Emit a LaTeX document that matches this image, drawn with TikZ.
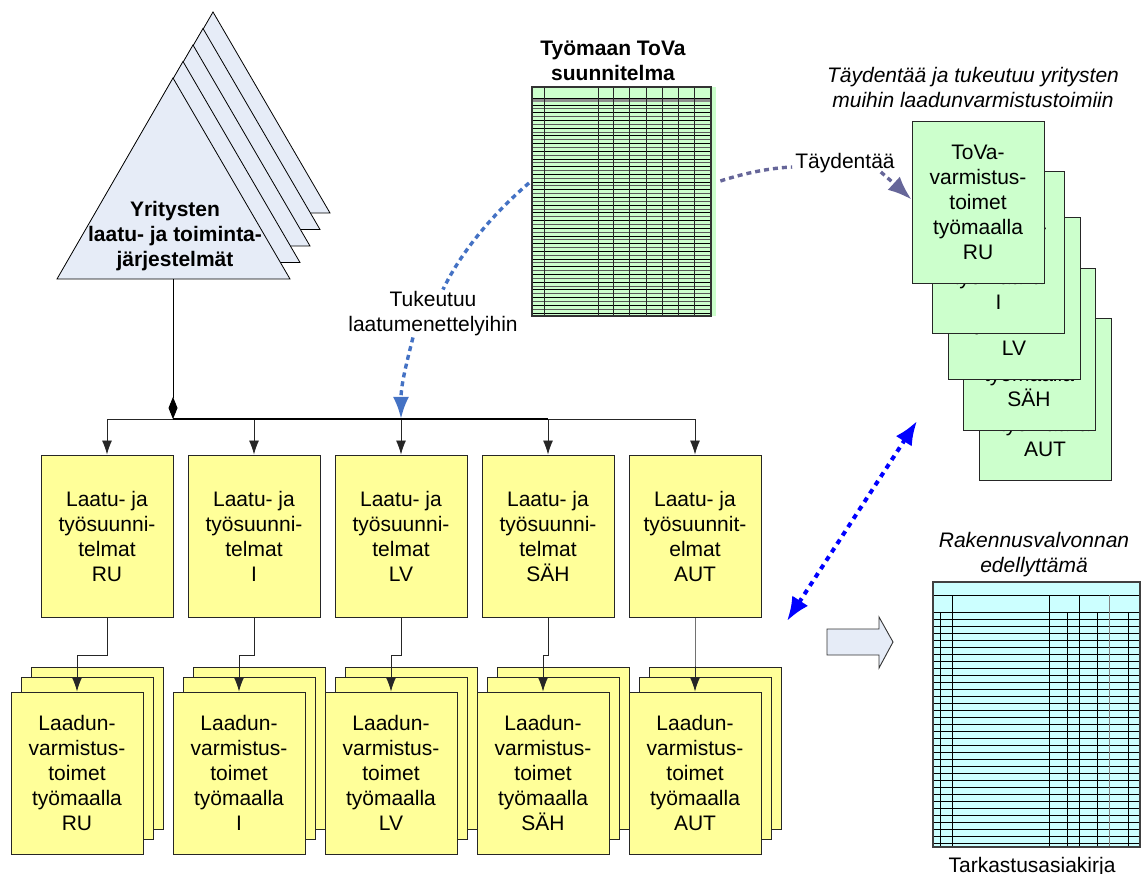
\documentclass[tikz,border=0pt]{standalone}
\usepackage{fontspec}
\setmainfont{Liberation Sans}
\usetikzlibrary{arrows.meta,calc}

\definecolor{boxyellow}{RGB}{255,255,153}
\definecolor{boxgreen}{RGB}{204,255,204}
\definecolor{sheetcyan}{RGB}{204,255,255}
\definecolor{paleblue}{RGB}{230,236,247}
\definecolor{linkblue}{RGB}{68,114,196}
\definecolor{linkpurple}{RGB}{102,102,153}
\definecolor{pureblue}{RGB}{0,0,255}

\newcommand{\txtsize}{\fontsize{21}{25}\selectfont}

\begin{document}
\begin{tikzpicture}[x=1pt,y=-1pt,
  every node/.style={font=\txtsize, align=center, inner sep=0pt},
  card/.style={draw=black!85, line width=0.9pt, minimum width=132pt, minimum height=162pt},
  plan/.style={card, fill=boxyellow},
  qa/.style={card, fill=boxgreen},
  feed/.style={line width=0.9pt, draw=black!85, -{Latex[length=14pt,width=10pt]}},
  support/.style={draw=linkblue, line width=3.4pt, dash pattern=on 5pt off 4pt},
  extend/.style={draw=linkpurple, line width=3.4pt, dash pattern=on 5pt off 4pt},
  crosscheck/.style={draw=pureblue, line width=4pt, dash pattern=on 5pt off 5pt,
    {Latex[length=24pt,width=19pt]}-{Latex[length=24pt,width=19pt]}},
  gridline/.style={line width=0.7pt, draw=black},
]
\useasboundingbox (0,0) rectangle (1141,874);

% ---- stacked triangles: company quality and management systems ----
\foreach \k in {4,3,2,1,0} {
  \begin{scope}[shift={(10*\k,-16.5*\k)}]
    \draw[fill=paleblue, draw=black, line width=0.8pt] (173,78) -- (290,279) -- (57,279) -- cycle;
  \end{scope}
}
\node[font=\bfseries\txtsize] (sys) at (175,236) {Yritysten\\laatu- ja toiminta-\\järjestelmät};
\coordinate (tribase) at (173,279);
\coordinate (hub) at (173,419);
\draw[line width=0.9pt, -{Diamond[length=22pt,width=9pt]}] (tribase) -- (hub);

% ---- quality and work plans per trade ----
\node[plan] (lt1) at (107,536) {Laatu- ja\\työsuunni-\\telmat\\RU};
\node[plan] (lt2) at (254,536) {Laatu- ja\\työsuunni-\\telmat\\I};
\node[plan] (lt3) at (401,536) {Laatu- ja\\työsuunni-\\telmat\\LV};
\node[plan] (lt4) at (548,536) {Laatu- ja\\työsuunni-\\telmat\\SÄH};
\node[plan] (lt5) at (695,536) {Laatu- ja\\työsuunnit-\\elmat\\AUT};

\foreach \i in {1,...,5} \draw[feed] (hub) -| (lt\i.north);
\draw[line width=2pt] (hub) -- (hub -| lt4.north);
\coordinate (busLV) at (hub -| lt3.north);

% ---- site quality assurance actions (stacks of three) ----
\foreach \n/\x/\t in {1/77/RU,2/239/I,3/391/LV,4/543/SÄH,5/695/AUT} {
  \node[plan] (lb\n-back) at (\x+20,748) {};
  \node[plan] (lb\n-mid) at (\x+10,758) {};
  \node[plan] (lb\n) at (\x,773) {Laadun-\\varmistus-\\toimet\\työmaalla\\\t};
}
\foreach \n in {1,...,5} \draw[feed] (lt\n.south) -- ++(0,38) -| (lb\n.north);

% ---- site quality plan spreadsheet ----
\node[font=\bfseries\txtsize] (tovatitle) at (613,61) {Työmaan ToVa\\suunnitelma};
\node[fill=boxgreen, minimum width=184pt, minimum height=229pt, anchor=north west] (tova) at (532,87) {};
\fill[black!45] (532,98) rectangle (711,102.5);
\draw[gridline] (532,98) -- (711,98);
\foreach \k in {0,...,27} \draw[gridline] (532,105+7.7*\k) -- (711,105+7.7*\k);
\foreach \k in {0,...,26} \draw[line width=0.7pt, draw=black!65] (532,108.85+7.7*\k) -- (711,108.85+7.7*\k);
\foreach \x in {544,598,613,629,646,662,678,694} \draw[line width=0.8pt, draw=black!85] (\x,87) -- (\x,316);
\draw[line width=1.1pt, draw=black!80] (532,87) rectangle (711,316);
\coordinate (tovaL) at ($(tova.north west)+(-3,96)$);
\coordinate (tovaR) at ($(tova.north east)+(4,94)$);

% ---- building control inspection record ----
\node[font=\itshape\txtsize] (rvnote) at (1034,555) {Rakennusvalvonnan\\edellyttämä};
\node[fill=sheetcyan, minimum width=207pt, minimum height=265pt, anchor=north west] (tark) at (933,582) {};
\draw[gridline] (933,595) -- (1140,595);
\draw[gridline] (933,612) -- (1140,612);
\foreach \k in {1,...,33} \draw[gridline] (933,612+7*\k) -- (1140,612+7*\k);
\foreach \x in {952,1049,1079} \draw[gridline] (\x,595) -- (\x,847);
\draw[line width=0.6pt, draw=black!50] (1109,595) -- (1109,847);
\foreach \x in {940,1067,1097,1128} \draw[gridline] (\x,612) -- (\x,847);
\draw[line width=1.4pt, draw=black!75] (933,582) rectangle (1140,847);
\node[anchor=base] (tarkname) at (1032,872) {Tarkastusasiakirja};

% ---- block arrow towards the inspection record ----
\draw[fill=paleblue, draw=black!80, line width=0.9pt]
  (827,629) -- (879,629) -- (879,617) -- (893,642) -- (879,668) -- (879,655) -- (827,655) -- cycle;

% ---- ToVa actions per trade (fanned stack) ----
\node[font=\itshape\txtsize] (supnote) at (973,88) {Täydentää ja tukeutuu yritysten\\muihin laadunvarmistustoimiin};
\foreach \n/\x/\y/\t in {5/1045/399/AUT,4/1029/349/SÄH,3/1014/298/LV,2/998.5/252/I,1/978/202/RU}
  \node[qa] (qa\n) at (\x,\y) {ToVa-\\varmistus-\\toimet\\työmaalla\\\t};

% ---- links ----
\node (tuk) at (433,314) {Tukeutuu\\laatumenettelyihin};
\draw[support] (tovaL) .. controls (495,212) and (462,250) .. ($(tuk.north)+(10,-2)$);
\draw[support, -{Latex[length=22pt,width=16pt]}] ($(tuk.south)+(-20,1)$) .. controls (406,365) and (401,385) .. (busLV);

\node (tayd) at (845,163) {Täydentää};
\draw[extend] (tovaR) .. controls (745,173) and (770,168) .. ($(tayd.west)+(-3,4)$);
\draw[extend, -{Latex[length=24pt,width=18pt]}] ($(tayd.south east)+(-14,-1)$) .. controls (888,178) .. ($(qa1.north west)+(0,79)$);

\coordinate (dA) at (787,621);
\coordinate (dB) at (917,421);
\draw[crosscheck] (dA) -- (dB);
\end{tikzpicture}
\end{document}
